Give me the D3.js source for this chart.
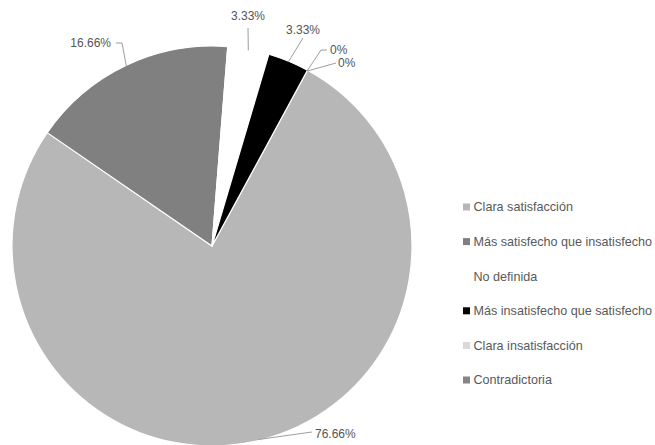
<!DOCTYPE html>
<html>
<head>
<meta charset="utf-8">
<script src="https://cdn.jsdelivr.net/npm/d3@7"></script>
<style>
  html, body { margin: 0; padding: 0; background: #fff; }
  svg { display: block; }
  text { font-family: "Liberation Sans", Arial, sans-serif; }
</style>
</head>
<body>
<svg id="chart" width="655" height="445"></svg>
<script>
// ---- data ----
const categories = [
  "Clara satisfacción",
  "Más satisfecho que insatisfecho",
  "No definida",
  "Más insatisfecho que satisfecho",
  "Clara insatisfacción",
  "Contradictoria"
];
const values = [76.66, 16.66, 3.33, 3.33, 0, 0];
const valueLabels = ["76.66%", "16.66%", "3.33%", "3.33%", "0%", "0%"];
const colors = ["#b7b7b7", "#808080", "#ffffff", "#000000", "#d9d9d9", "#858585"];

// ---- layout ----
const W = 655, H = 445;
const cx = 212, cy = 246, R = 200;
const startDeg = 28.5;

// label layout: [elbow dx, elbow dy (relative to edge point), text x, text y, anchor, horizontal end x]
const labelLayout = [
  { ex: 312, ey: 432, tx: 315, ty: 434, anchor: "start" },
  { ex: 122, ey: 43, hx: 116, tx: 111, ty: 43, anchor: "end" },
  { ex: 248, ey: 28, tx: 248, ty: 16, anchor: "middle" },
  { ex: 303, ey: 38, tx: 303, ty: 30, anchor: "middle" },
  { ex: 321, ey: 50, hx: 327, tx: 330, ty: 50, anchor: "start" },
  { ex: 336, ey: 63, tx: 338, ty: 63, anchor: "start" }
];

const svg = d3.select("#chart");
svg.append("rect").attr("width", W).attr("height", H).attr("fill", "#fff");

const data = categories.map((c, i) => ({ name: c, value: values[i], label: valueLabels[i], color: colors[i], i }));

const pie = d3.pie().sort(null).value(d => d.value)
  .startAngle(startDeg * Math.PI / 180)
  .endAngle(startDeg * Math.PI / 180 + 2 * Math.PI);
const arcs = pie(data);
const arc = d3.arc().innerRadius(0).outerRadius(R);

const g = svg.append("g").attr("transform", `translate(${cx},${cy})`);
g.selectAll("path.slice").data(arcs.filter(a => a.value > 0)).join("path")
  .attr("class", "slice")
  .attr("d", arc)
  .attr("fill", d => d.data.color)
  .attr("stroke", "#fff")
  .attr("stroke-width", 1.2)
  .attr("stroke-linejoin", "round");

// leader lines and labels
const polar = (r, a) => [cx + r * Math.sin(a), cy - r * Math.cos(a)];
const lab = svg.append("g");
arcs.forEach((a, i) => {
  const mid = (a.startAngle + a.endAngle) / 2;
  const p0 = polar(R - 1, mid);
  const L = labelLayout[i];
  const pts = [p0, [L.ex, L.ey]];
  if (L.hx !== undefined) pts.push([L.hx, L.ey]);
  lab.append("path")
    .attr("d", d3.line()(pts))
    .attr("fill", "none")
    .attr("stroke", "#9e9e9e")
    .attr("stroke-width", 1);
  lab.append("text")
    .attr("x", L.tx).attr("y", L.ty)
    .attr("dy", "0.35em")
    .attr("text-anchor", L.anchor)
    .attr("font-size", 12)
    .attr("fill", "#555")
    .text(a.data.label);
});

// legend
const legY = d3.scalePoint().domain(categories).range([207, 380]);
const leg = svg.append("g");
categories.forEach((c, i) => {
  const y = legY(c);
  leg.append("rect")
    .attr("x", 463).attr("y", y - 3.5)
    .attr("width", 7).attr("height", 7)
    .attr("fill", colors[i]);
  leg.append("text")
    .attr("x", 473.5).attr("y", y)
    .attr("dy", "0.35em")
    .attr("font-size", 12.6)
    .attr("fill", "#595959")
    .text(c);
});
</script>
</body>
</html>
